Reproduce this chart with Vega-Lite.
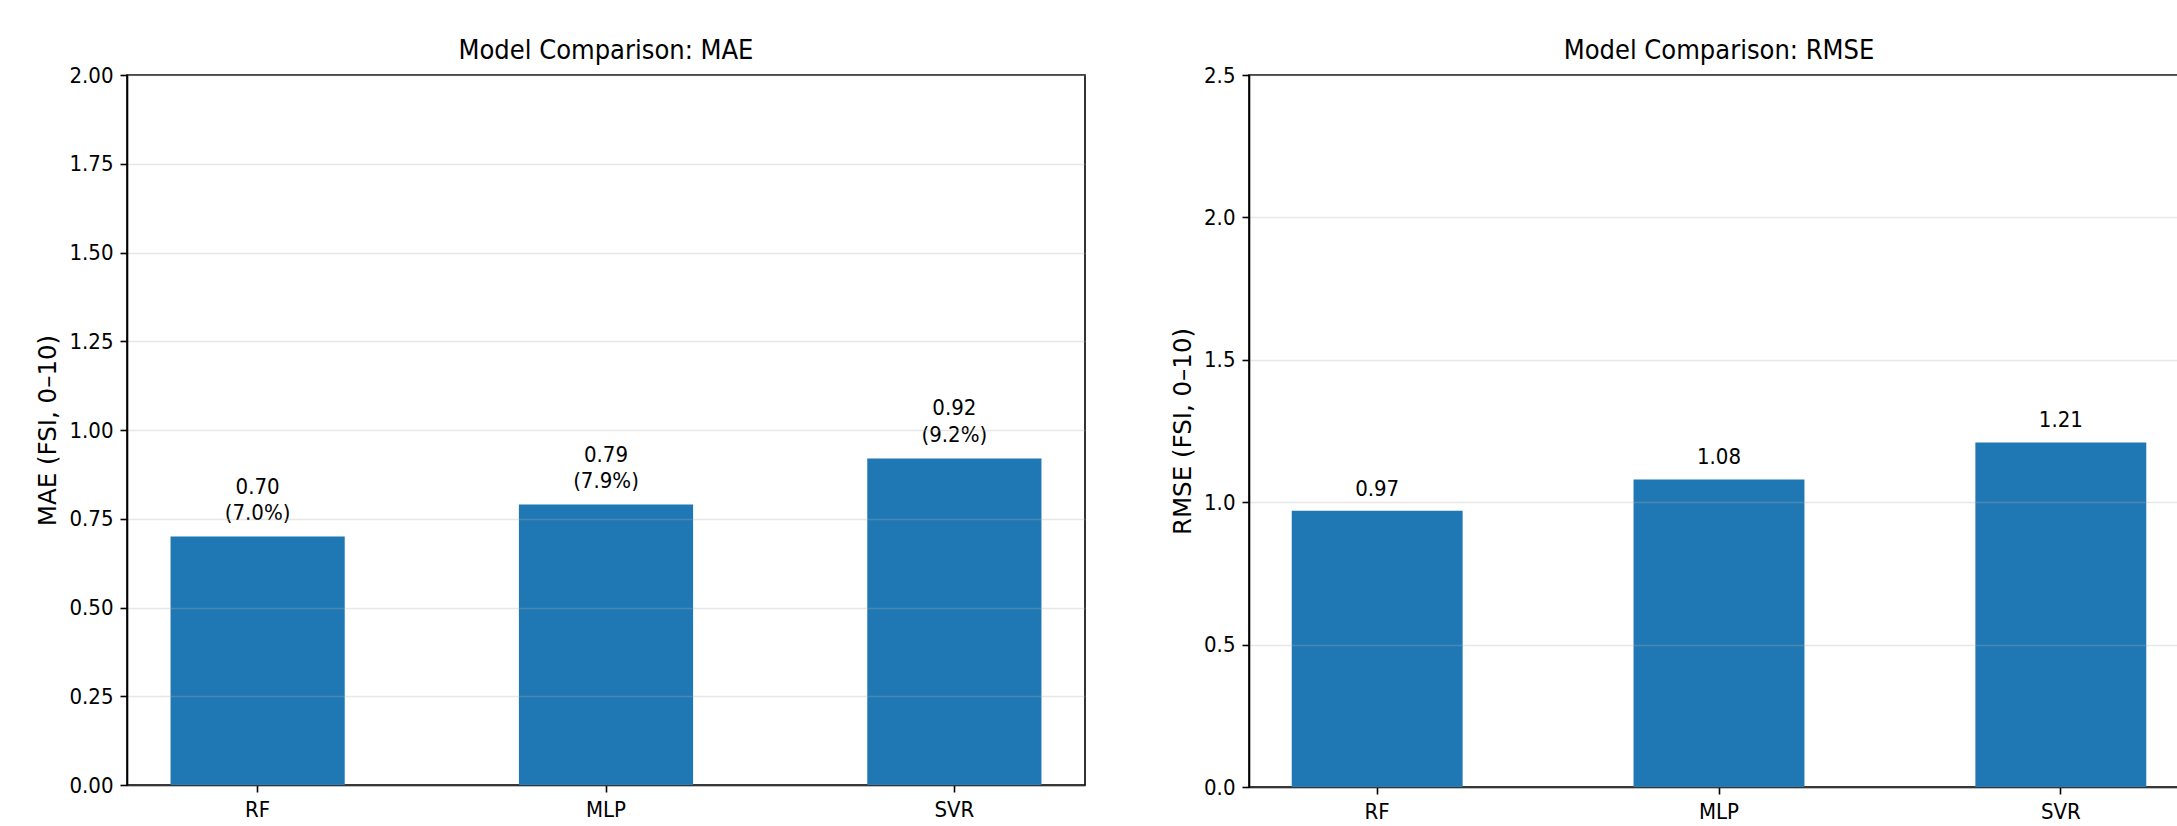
{
  "$schema": "https://vega.github.io/schema/vega-lite/v6.json",
  "background": "white",
  "padding": {"left": 35, "top": 36, "right": 0, "bottom": 0},
  "spacing": 83,
  "config": {
    "font": "DejaVu Sans Condensed",
    "view": {"stroke": "black", "strokeWidth": 1.6},
    "title": {"fontSize": 27, "fontWeight": "normal", "color": "black", "offset": -1},
    "axis": {
      "domainColor": "black",
      "domainWidth": 1.6,
      "tickColor": "black",
      "tickWidth": 1.6,
      "tickSize": 7,
      "labelFontSize": 22,
      "labelColor": "black",
      "labelPadding": 7,
      "titleFont": "DejaVu Sans",
      "titleFontSize": 24.5,
      "titleFontWeight": "normal",
      "titleColor": "black",
      "titlePadding": 8,
      "gridColor": "#b0b0b0",
      "gridOpacity": 0.3,
      "gridWidth": 1.6
    },
    "axisX": {"grid": false, "labelAngle": 0, "title": null}
  },
  "hconcat": [
    {
      "width": 958,
      "height": 710,
      "title": "Model Comparison: MAE",
      "data": {"values": [
        {"model": "RF", "mae": 0.70, "label": "0.70\n(7.0%)"},
        {"model": "MLP", "mae": 0.79, "label": "0.79\n(7.9%)"},
        {"model": "SVR", "mae": 0.92, "label": "0.92\n(9.2%)"}
      ]},
      "encoding": {
        "x": {"field": "model", "type": "nominal", "sort": null,
              "scale": {"paddingInner": 0.5, "paddingOuter": 0.125}},
        "y": {"field": "mae", "type": "quantitative",
              "scale": {"domain": [0, 2], "nice": false},
              "axis": {"title": "MAE (FSI, 0–10)", "format": ".2f",
                       "values": [0, 0.25, 0.5, 0.75, 1, 1.25, 1.5, 1.75, 2],
                       "zindex": 1}}
      },
      "layer": [
        {"mark": {"type": "bar", "color": "#1f77b4"}},
        {"mark": {"type": "text", "baseline": "alphabetic", "dy": -43, "lineBreak": "\n",
                  "fontSize": 22, "lineHeight": 26.5, "color": "black"},
         "encoding": {"text": {"field": "label"}}}
      ]
    },
    {
      "width": 940,
      "height": 712,
      "title": "Model Comparison: RMSE",
      "data": {"values": [
        {"model": "RF", "rmse": 0.97, "label": "0.97"},
        {"model": "MLP", "rmse": 1.08, "label": "1.08"},
        {"model": "SVR", "rmse": 1.21, "label": "1.21"}
      ]},
      "encoding": {
        "x": {"field": "model", "type": "nominal", "sort": null,
              "scale": {"paddingInner": 0.5, "paddingOuter": 0.125}},
        "y": {"field": "rmse", "type": "quantitative",
              "scale": {"domain": [0, 2.5], "nice": false},
              "axis": {"title": "RMSE (FSI, 0–10)", "format": ".1f",
                       "values": [0, 0.5, 1, 1.5, 2, 2.5],
                       "zindex": 1}}
      },
      "layer": [
        {"mark": {"type": "bar", "color": "#1f77b4"}},
        {"mark": {"type": "text", "baseline": "alphabetic", "dy": -15,
                  "fontSize": 22, "color": "black"},
         "encoding": {"text": {"field": "label"}}}
      ]
    }
  ]
}
